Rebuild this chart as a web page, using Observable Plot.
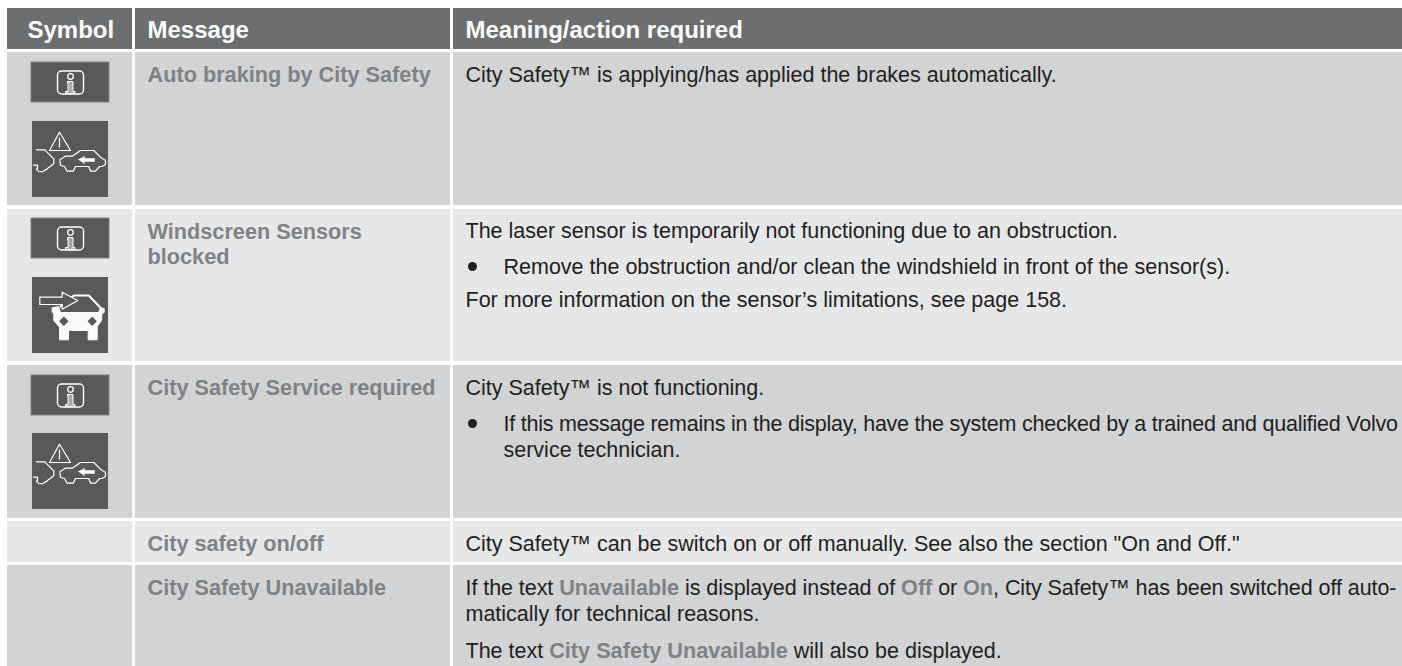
<!DOCTYPE html>
<html><head><meta charset="utf-8">
<script src="https://cdn.jsdelivr.net/npm/d3@7"></script>
<script src="https://cdn.jsdelivr.net/npm/@observablehq/plot@0.6"></script>
<style>html,body{margin:0;padding:0;background:#fff}svg{display:block}</style>
</head><body><div id="chart"></div>
<script>
const FONT = "Liberation Sans, Arial, sans-serif";
const columns = [[7,132],[135,450],[453,1402]];
const rows = [[8,49,"#6d6e70"],[52,205,"#d1d3d4"],[209,361,"#e6e7e8"],[365,518,"#d1d3d4"],[521,562,"#e6e7e8"],[565,666,"#d1d3d4"]];
const headers = [["Symbol",27],["Message",147],["Meaning/action required",465]];
const messages = [
  ["Auto braking by City Safety",81],["Windscreen Sensors",238],["blocked",263],
  ["City Safety Service required",394],["City safety on/off",550],["City Safety Unavailable",594]];
const bodyLines = [
  ["City Safety™ is applying/has applied the brakes automatically.",465,81],
  ["The laser sensor is temporarily not functioning due to an obstruction.",465,237],
  ["Remove the obstruction and/or clean the windshield in front of the sensor(s).",503,273],
  ["For more information on the sensor’s limitations, see page 158.",465,306],
  ["City Safety™ is not functioning.",465,394],
  ["If this message remains in the display, have the system checked by a trained and qualified Volvo",503,430,-0.23],
  ["service technician.",503,456],
  ["City Safety™ can be switch on or off manually. See also the section \"On and Off.\"",465,550],
  ["If the text **Unavailable** is displayed instead of **Off** or **On**, City Safety™ has been switched off auto-",465,594,-0.06],
  ["matically for technical reasons.",465,620],
  ["The text **City Safety Unavailable** will also be displayed.",465,657]];
const bullets = [[472,266],[472,423]];
const infoIcons = [[31,62],[31,218],[31,375]];
const warnIcons = [[32,121],[32,433]];
const carIcons = [[32,277]];
// icon outlines, relative to each icon's top-left corner
const infoStem = [[36,19],[41.5,19],[41.5,29],[43.5,29],[43.5,31],[34,31],[34,29],[36.5,29],[36.5,21],[36,21],[36,19]];
const warnStroke = {
  triangle:[[27,10.7],[17,29],[38,29],[27,10.7]],
  bang:[[27,16.5],[27,25.5]],
  frontCar:[[4,28.3],[12.3,28.3],[21.3,37.3],[21.3,42.3],[13.7,48]],
  frontWheel:[[4,47.3],[6,50],[10,50.3],[13.7,48]],
  frontTail:[[1,43.7],[5,43.7],[5,47.3]],
  rearCar:[[28,44],[27.3,38.3],[33,34.7],[39.7,34.7],[48,29],[61.3,29],[68,35.7],[73,39],[73,43],[69.7,45],[67,45],[63,49.7],[58,49.7],[56.3,45],[43,45],[40.7,49.7],[34.7,49.7],[32,45],[28,44]]};
const warnArrow = [[46,38],[52,35],[52,37],[62,37],[62,40],[52,40],[52,42],[46,38]];
const carRoof = [[28,29],[41.3,18],[56.3,18],[68,30.3]];
const carBody = [[19.7,30.5],[26,29],[28,35],[66,35],[68,30.3],[71.7,31],[71.7,35],[69.5,36],[69,43],[64.7,49],[64.7,62.3],[55.7,62.3],[55.7,53],[36,53],[36,62.3],[27,62.3],[27,49.7],[21.3,43],[21.3,35.3],[19.7,34.7],[19.7,30.5]];
const carLamps = [[[26.6,43.7],[31.3,39],[36,43.7],[31.3,48.4],[26.6,43.7]],[[55,43.7],[59.7,39],[64.4,43.7],[59.7,48.4],[55,43.7]]];
const carArrow = [[7.3,19.7],[29.7,19.7],[29.7,14.7],[45.3,23],[29.7,31.7],[29.7,27],[7.3,27],[7.3,19.7]];

const flat = (icons, shapes) => icons.flatMap(([ix,iy],i)=>shapes.flatMap((pts,s)=>pts.map(([x,y])=>({x:ix+x,y:iy+y,k:i+"-"+s}))));
const cells = rows.flatMap(([y1,y2,fill])=>columns.map(([x1,x2])=>({x1,x2,y1,y2,fill})));
const BODY=21.5, MSG=21.7, HEAD=24;
// Turns **word** into a bold grey tspan inside a text mark, and applies a line's tracking
const rich = (index, scales, values, dims, ctx, next) => {
  const g = next(index, scales, values, dims, ctx);
  d3.select(g).selectAll("text").each(function(i){
    const tracking = bodyLines[i][3];
    if (tracking) this.setAttribute("letter-spacing", tracking);
    const parts = this.textContent.split("**"); this.textContent = "";
    parts.forEach((p,j)=>{const t=document.createElementNS("http://www.w3.org/2000/svg","tspan");t.textContent=p;
      if(j%2){t.setAttribute("font-weight","bold");t.setAttribute("font-size",MSG);t.setAttribute("fill","#808285");} this.appendChild(t);});
  });
  return g;
};
const text = (data,opts)=>Plot.text(data,{lineAnchor:"bottom",textAnchor:"start",fontFamily:FONT,...opts});
const chart = Plot.plot({
  width:1402,height:666,margin:0,
  x:{domain:[0,1402],range:[0,1402],axis:null},
  y:{domain:[0,666],range:[0,666],axis:null},
  marks:[
    Plot.rect(cells,{x1:"x1",x2:"x2",y1:"y1",y2:"y2",fill:"fill"}),
    text(headers,{x:d=>d[1],y:()=>37,text:d=>d[0],fill:"white",fontWeight:"bold",fontSize:HEAD}),
    text(messages,{x:()=>147,y:d=>d[1],text:d=>d[0],fill:"#808285",fontWeight:"bold",fontSize:MSG}),
    text(bodyLines,{x:d=>d[1],y:d=>d[2],text:d=>d[0],fill:"#231f20",fontSize:BODY,render:rich}),
    Plot.dot(bullets,{x:d=>d[0],y:d=>d[1],r:4.5,fill:"#231f20"}),
    // info icons
    Plot.rect(infoIcons,{x1:d=>d[0],x2:d=>d[0]+78,y1:d=>d[1],y2:d=>d[1]+40,fill:"#58595b",stroke:"#808285",strokeWidth:1}),
    Plot.rect(infoIcons,{x1:d=>d[0]+26.5,x2:d=>d[0]+52.5,y1:d=>d[1]+9,y2:d=>d[1]+32,rx:4,fill:"none",stroke:"white",strokeWidth:1.4}),
    Plot.dot(infoIcons,{x:d=>d[0]+39,y:d=>d[1]+14,r:2.8,fill:"#58595b",stroke:"white",strokeWidth:1.3}),
    Plot.line(flat(infoIcons,[infoStem]),{x:"x",y:"y",z:"k",fill:"#a7a9ac",stroke:"white",strokeWidth:1}),
    // warning icons
    Plot.rect(warnIcons,{x1:d=>d[0],x2:d=>d[0]+76,y1:d=>d[1],y2:d=>d[1]+76,fill:"#58595b"}),
    Plot.line(flat(warnIcons,Object.values(warnStroke)),{x:"x",y:"y",z:"k",stroke:"white",strokeWidth:1.2,strokeLinejoin:"round"}),
    Plot.line(flat(warnIcons,[warnArrow]),{x:"x",y:"y",z:"k",fill:"white",stroke:"white",strokeWidth:.5}),
    // blocked-sensor icon
    Plot.rect(carIcons,{x1:d=>d[0],x2:d=>d[0]+76,y1:d=>d[1],y2:d=>d[1]+76,fill:"#58595b"}),
    Plot.line(flat(carIcons,[carRoof]),{x:"x",y:"y",z:"k",stroke:"white",strokeWidth:2}),
    Plot.line(flat(carIcons,[carBody]),{x:"x",y:"y",z:"k",fill:"#fafafa",stroke:"#fafafa",strokeWidth:1}),
    Plot.line(flat(carIcons,carLamps),{x:"x",y:"y",z:"k",fill:"#58595b",stroke:"none"}),
    Plot.line(flat(carIcons,[carArrow]),{x:"x",y:"y",z:"k",fill:"#58595b",stroke:"white",strokeWidth:1.2})
  ]
});
document.getElementById("chart").append(chart);
</script></body></html>
